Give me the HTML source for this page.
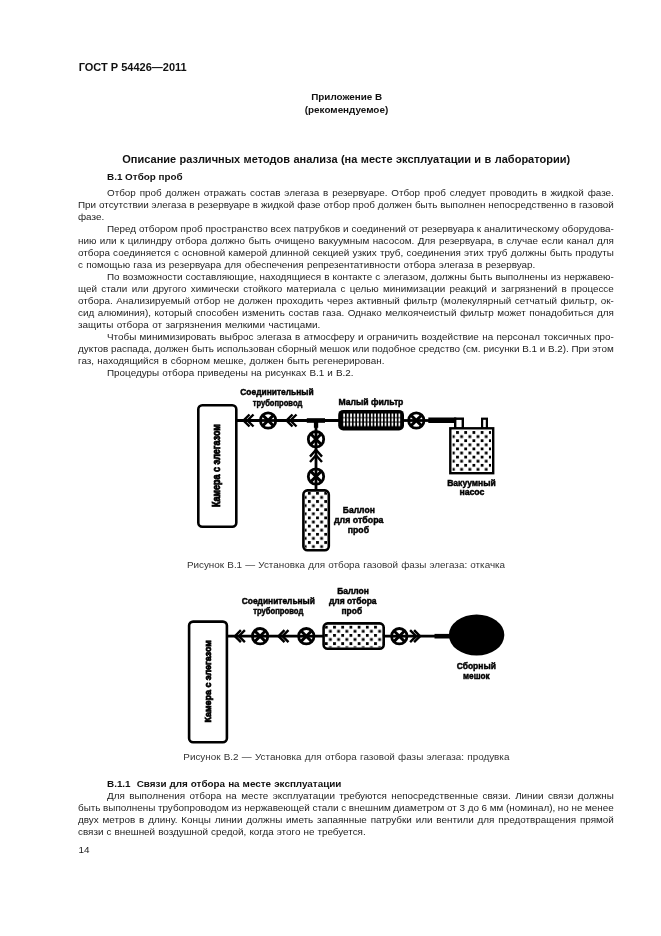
<!DOCTYPE html>
<html lang="ru"><head><meta charset="utf-8"><title>ГОСТ Р 54426—2011</title>
<style>
html,body{margin:0;padding:0;background:#fff;}
body{width:661px;height:936px;position:relative;overflow:hidden;font-family:"Liberation Sans",sans-serif;color:#1c1c1c;}
#pg{position:absolute;left:0;top:0;width:661px;height:936px;will-change:transform;}
.t{position:absolute;white-space:pre;line-height:12px;height:12px;}
.b{font-weight:bold;color:#111;}
.cap{color:#333;}
svg{position:absolute;left:0;top:0;}
svg text{font-family:"Liberation Sans",sans-serif;font-weight:bold;fill:#000;stroke:#000;stroke-width:0.5px;}
svg text.rot{stroke-width:0.8px;}
</style></head><body>
<div id="pg">
<div class="t" style="top:187px;font-size:9.9px;word-spacing:1.100px;left:107.00px;">Отбор проб должен отражать состав элегаза в резервуаре. Отбор проб следует проводить в жидкой фазе.</div>
<div class="t" style="top:199px;font-size:9.9px;word-spacing:0.141px;left:78.00px;">При отсутствии элегаза в резервуаре в жидкой фазе отбор проб должен быть выполнен непосредственно в газовой</div>
<div class="t" style="top:211px;font-size:9.9px;left:78.00px;">фазе.</div>
<div class="t" style="top:223px;font-size:9.9px;word-spacing:0.125px;left:107.00px;">Перед отбором проб пространство всех патрубков и соединений от резервуара к аналитическому оборудова-</div>
<div class="t" style="top:235px;font-size:9.9px;word-spacing:0.716px;left:78.00px;">нию или к цилиндру отбора должно быть очищено вакуумным насосом. Для резервуара, в случае если канал для</div>
<div class="t" style="top:247px;font-size:9.9px;word-spacing:0.415px;left:78.00px;">отбора соединяется с основной камерой длинной секцией узких труб, соединения этих труб должны быть продуты</div>
<div class="t" style="top:259px;font-size:9.9px;word-spacing:0.556px;left:78.00px;">с помощью газа из резервуара для обеспечения репрезентативности отбора элегаза в резервуар.</div>
<div class="t" style="top:271px;font-size:9.9px;word-spacing:0.382px;left:107.00px;">По возможности составляющие, находящиеся в контакте с элегазом, должны быть выполнены из нержавею-</div>
<div class="t" style="top:283px;font-size:9.9px;word-spacing:1.502px;left:78.00px;">щей стали или другого химически стойкого материала с целью минимизации реакций и загрязнений в процессе</div>
<div class="t" style="top:295px;font-size:9.9px;word-spacing:0.834px;left:78.00px;">отбора. Анализируемый отбор не должен проходить через активный фильтр (молекулярный сетчатый фильтр, ок-</div>
<div class="t" style="top:307px;font-size:9.9px;word-spacing:0.768px;left:78.00px;">сид алюминия), который способен изменить состав газа. Однако мелкоячеистый фильтр может понадобиться для</div>
<div class="t" style="top:319px;font-size:9.9px;word-spacing:0.731px;left:78.00px;">защиты отбора от загрязнения мелкими частицами.</div>
<div class="t" style="top:331px;font-size:9.9px;word-spacing:0.599px;left:107.00px;">Чтобы минимизировать выброс элегаза в атмосферу и ограничить воздействие на персонал токсичных про-</div>
<div class="t" style="top:343px;font-size:9.9px;word-spacing:-0.038px;left:78.00px;">дуктов распада, должен быть использован сборный мешок или подобное средство (см. рисунки В.1 и В.2). При этом</div>
<div class="t" style="top:355px;font-size:9.9px;word-spacing:0.533px;left:78.00px;">газ, находящийся в сборном мешке, должен быть регенерирован.</div>
<div class="t" style="top:367px;font-size:9.9px;word-spacing:0.366px;left:107.00px;">Процедуры отбора приведены на рисунках В.1 и В.2.</div>
<div class="t" style="top:790px;font-size:9.9px;word-spacing:1.638px;left:107.00px;">Для выполнения отбора на месте эксплуатации требуются непосредственные связи. Линии связи должны</div>
<div class="t" style="top:802px;font-size:9.9px;word-spacing:-0.086px;left:78.00px;">быть выполнены трубопроводом из нержавеющей стали с внешним диаметром от 3 до 6 мм (номинал), но не менее</div>
<div class="t" style="top:814px;font-size:9.9px;word-spacing:1.132px;left:78.00px;">двух метров в длину. Концы линии должны иметь запаянные патрубки или вентили для предотвращения прямой</div>
<div class="t" style="top:826px;font-size:9.9px;word-spacing:0.312px;left:78.00px;">связи с внешней воздушной средой, когда этого не требуется.</div>
<div class="t b" style="top:61px;font-size:11px;word-spacing:0.031px;left:78.70px;">ГОСТ Р 54426—2011</div>
<div class="t b" style="top:91px;font-size:9.9px;left:311.19px;">Приложение В</div>
<div class="t b" style="top:104px;font-size:9.9px;left:304.80px;">(рекомендуемое)</div>
<div class="t b" style="top:153px;font-size:11px;word-spacing:0.384px;left:122.30px;">Описание различных методов анализа (на месте эксплуатации и в лаборатории)</div>
<div class="t b" style="top:171px;font-size:9.9px;left:107.00px;">В.1 Отбор проб</div>
<div class="t b" style="top:778px;font-size:9.9px;word-spacing:0.285px;left:107.00px;">В.1.1  Связи для отбора на месте эксплуатации</div>
<div class="t cap" style="top:559px;font-size:9.9px;word-spacing:0.416px;left:186.90px;">Рисунок В.1 — Установка для отбора газовой фазы элегаза: откачка</div>
<div class="t cap" style="top:751px;font-size:9.9px;word-spacing:0.483px;left:183.30px;">Рисунок В.2 — Установка для отбора газовой фазы элегаза: продувка</div>
<div class="t" style="top:844px;font-size:9.9px;left:78.40px;">14</div>
<svg width="661" height="936" viewBox="0 0 661 936">
<defs>
  <pattern id="dots1" x="307.9" y="491.9" width="8.2" height="8.2" patternUnits="userSpaceOnUse">
    <rect x="0" y="0" width="2.8" height="2.8" fill="#000"/><rect x="4.1" y="4.1" width="2.8" height="2.8" fill="#000"/>
  </pattern>
  <pattern id="dots2" x="456.1" y="431.1" width="8.2" height="8.2" patternUnits="userSpaceOnUse">
    <rect x="0" y="0" width="2.8" height="2.8" fill="#000"/><rect x="4.1" y="4.1" width="2.8" height="2.8" fill="#000"/>
  </pattern>
  <pattern id="dots3" x="333.1" y="625.8" width="8.2" height="8.2" patternUnits="userSpaceOnUse">
    <rect x="0" y="0" width="2.8" height="2.8" fill="#000"/><rect x="4.1" y="4.1" width="2.8" height="2.8" fill="#000"/>
  </pattern>
  <pattern id="hatch" x="342.4" y="413.2" width="3.45" height="4.45" patternUnits="userSpaceOnUse">
    <rect x="0.9" y="0.4" width="1.7" height="3.6" fill="#fff"/>
  </pattern>
  <g id="valve">
    <circle cx="0" cy="0" r="7.7" fill="#fff" stroke="#000" stroke-width="2.8"/>
    <path d="M-5.4,-5.4 L5.4,5.4 M-5.4,5.4 L5.4,-5.4" stroke="#000" stroke-width="2.9" fill="none"/>
    <path d="M-8,0 L8,0" stroke="#000" stroke-width="2.8" fill="none"/>
  </g>
  <g id="chevL">
    <path d="M6.9,-6 L0.9,0 L6.9,6 M10.9,-6 L4.9,0 L10.9,6" stroke="#000" stroke-width="2.4" fill="none" stroke-linejoin="miter"/>
  </g>
</defs>

<!-- ================= Figure B.1 ================= -->
<g id="fig1">
  <rect x="198.3" y="405.2" width="38" height="121.6" rx="4" ry="4" fill="#fff" stroke="#000" stroke-width="2.6"/>
  <text class="rot" transform="translate(219.7,507.1) rotate(-90)" font-size="10" textLength="83" lengthAdjust="spacingAndGlyphs">Камера с элегазом</text>

  <line x1="237" y1="420.5" x2="339" y2="420.5" stroke="#000" stroke-width="2.8"/>
  <use href="#chevL" x="242.6" y="420.5"/>
  <use href="#valve" x="268.1" y="420.5"/>
  <use href="#chevL" x="285.6" y="420.5"/>
  <!-- T junction -->
  <rect x="306.8" y="418.2" width="18.2" height="4.6" fill="#000"/>
  <rect x="313.9" y="422" width="4.3" height="5.8" fill="#000"/>
  <line x1="316" y1="420" x2="316" y2="491" stroke="#000" stroke-width="2.8"/>
  <use href="#valve" transform="translate(316,439.2) rotate(90)"/>
  <path d="M310,456.6 L316,449.8 L322,456.6 M310,462 L316,455.2 L322,462" stroke="#000" stroke-width="2.4" fill="none"/>
  <use href="#valve" transform="translate(316,476.5) rotate(90)"/>
  <!-- sampling cylinder -->
  <rect x="303.4" y="490.4" width="25.4" height="59.8" rx="4" ry="4" fill="#fff" stroke="#000" stroke-width="2.6"/>
  <rect x="304.8" y="491.8" width="22.6" height="57" rx="3" fill="url(#dots1)"/>
  <!-- filter -->
  <rect x="338.2" y="409.9" width="65.8" height="20.5" rx="5" ry="5" fill="#000"/>
  <rect x="342.4" y="413.2" width="58.6" height="13.3" fill="url(#hatch)"/>
  <line x1="403" y1="420.5" x2="430" y2="420.5" stroke="#000" stroke-width="2.8"/>
  <use href="#valve" x="416.3" y="420.5"/>
  <!-- thick pipe to pump -->
  <rect x="428.3" y="417.5" width="28" height="5.5" fill="#000"/>
  <!-- pump posts -->
  <rect x="455.2" y="418.7" width="7.6" height="10" fill="#fff" stroke="#000" stroke-width="2.4"/>
  <rect x="482.1" y="418.7" width="4.8" height="10" fill="#fff" stroke="#000" stroke-width="2.2"/>
  <!-- pump box -->
  <rect x="450.3" y="428.3" width="42.9" height="44.9" fill="#fff" stroke="#000" stroke-width="2.4"/>
  <rect x="452.5" y="430.5" width="38.5" height="40.5" fill="url(#dots2)"/>

  <text x="240.3" y="394.7" font-size="9.9" textLength="73.4" lengthAdjust="spacingAndGlyphs">Соединительный</text>
  <text x="252.7" y="405.6" font-size="9.9" textLength="49.6" lengthAdjust="spacingAndGlyphs">трубопровод</text>
  <text x="338.4" y="405.2" font-size="9.9" textLength="65" lengthAdjust="spacingAndGlyphs">Малый фильтр</text>
  <text x="447.2" y="485.7" font-size="9.9" textLength="48.6" lengthAdjust="spacingAndGlyphs">Вакуумный</text>
  <text x="459.4" y="495.3" font-size="9.9" textLength="25" lengthAdjust="spacingAndGlyphs">насос</text>
  <text x="342.8" y="512.5" font-size="9.9" textLength="32" lengthAdjust="spacingAndGlyphs">Баллон</text>
  <text x="334" y="523" font-size="9.9" textLength="49.5" lengthAdjust="spacingAndGlyphs">для отбора</text>
  <text x="347.8" y="533.1" font-size="9.9" textLength="21.2" lengthAdjust="spacingAndGlyphs">проб</text>
</g>

<!-- ================= Figure B.2 ================= -->
<g id="fig2">
  <rect x="189.1" y="621.6" width="37.8" height="120.7" rx="4" ry="4" fill="#fff" stroke="#000" stroke-width="2.6"/>
  <text class="rot" transform="translate(210.7,722.5) rotate(-90)" font-size="9.8" textLength="82.4" lengthAdjust="spacingAndGlyphs">Камера с элегазом</text>

  <line x1="227" y1="636.2" x2="324" y2="636.2" stroke="#000" stroke-width="2.8"/>
  <use href="#chevL" x="234" y="636.2"/>
  <use href="#valve" x="260.1" y="636.2"/>
  <use href="#chevL" x="277.6" y="636.2"/>
  <use href="#valve" x="306.3" y="636.2"/>
  <!-- cylinder -->
  <rect x="323.6" y="623.4" width="60.1" height="25.4" rx="4" ry="4" fill="#fff" stroke="#000" stroke-width="2.6"/>
  <rect x="325" y="624.8" width="57.3" height="22.6" rx="3" fill="url(#dots3)"/>
  <line x1="384" y1="636.2" x2="436" y2="636.2" stroke="#000" stroke-width="2.8"/>
  <use href="#valve" x="399.3" y="636.2"/>
  <use href="#chevL" transform="translate(421,636.2) rotate(180)"/>
  <rect x="434.5" y="633.9" width="17" height="4.6" fill="#000"/>
  <ellipse cx="476.6" cy="635" rx="27.7" ry="20.6" fill="#000"/>

  <text x="241.8" y="604.3" font-size="9.9" textLength="73.1" lengthAdjust="spacingAndGlyphs">Соединительный</text>
  <text x="253.2" y="614.2" font-size="9.9" textLength="50.1" lengthAdjust="spacingAndGlyphs">трубопровод</text>
  <text x="337.2" y="593.6" font-size="9.9" textLength="31.7" lengthAdjust="spacingAndGlyphs">Баллон</text>
  <text x="328.9" y="604.3" font-size="9.9" textLength="47.7" lengthAdjust="spacingAndGlyphs">для отбора</text>
  <text x="341.5" y="614.2" font-size="9.9" textLength="20.6" lengthAdjust="spacingAndGlyphs">проб</text>
  <text x="456.7" y="668.8" font-size="9.9" textLength="39.2" lengthAdjust="spacingAndGlyphs">Сборный</text>
  <text x="463" y="678.8" font-size="9.9" textLength="26.6" lengthAdjust="spacingAndGlyphs">мешок</text>
</g>
</svg>

</div>
</body></html>
